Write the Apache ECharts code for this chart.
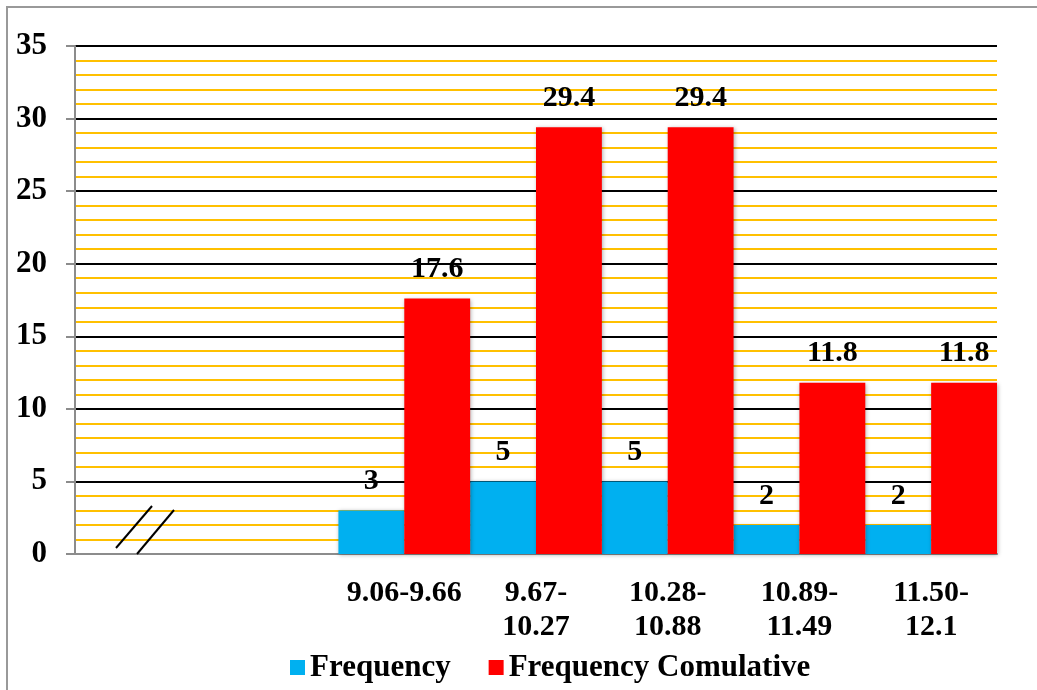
<!DOCTYPE html>
<html>
<head>
<meta charset="utf-8">
<script src="https://cdn.jsdelivr.net/npm/echarts@6/dist/echarts.min.js"></script>
<style>
  html, body { margin: 0; padding: 0; background: #fff; }
  #chart { width: 1037px; height: 690px; }
</style>
</head>
<body>
<div id="chart"></div>
<script>
const categories = ['', '', '9.06-9.66', '9.67-\n10.27', '10.28-\n10.88', '10.89-\n11.49', '11.50-\n12.1'];
const frequency = [null, null, 3, 5, 5, 2, 2];
const cumulative = [null, null, 17.6, 29.4, 29.4, 11.8, 11.8];
const yTicks = { min: 0, max: 35, interval: 5 };

const font = '"Liberation Serif", "Times New Roman", serif';

const chart = echarts.init(document.getElementById('chart'));
chart.setOption({
  animation: false,
  textStyle: { fontFamily: font },
  grid: { left: 75, right: 40, top: 46, bottom: 136 },
  legend: {
    top: 647,
    left: 285,
    itemWidth: 15,
    itemHeight: 15,
    itemGap: 38,
    icon: 'rect',
    textStyle: { fontFamily: font, fontSize: 31, fontWeight: 'bold', color: '#000' },
    data: ['Frequency', 'Frequency Comulative']
  },
  xAxis: {
    type: 'category',
    data: categories,
    axisLine: { lineStyle: { color: '#8c8c8c', width: 2 } },
    axisTick: { show: false },
    axisLabel: {
      interval: 0,
      margin: 22,
      fontFamily: font,
      fontSize: 30,
      fontWeight: 'bold',
      color: '#000',
      lineHeight: 34
    }
  },
  yAxis: {
    type: 'value',
    min: yTicks.min,
    max: yTicks.max,
    interval: yTicks.interval,
    axisLine: { show: true, lineStyle: { color: '#8c8c8c', width: 2 } },
    axisTick: { show: true, inside: false, length: 9, lineStyle: { color: '#8c8c8c', width: 2 } },
    axisLabel: { margin: 28, fontFamily: font, fontSize: 31, fontWeight: 'bold', color: '#000' },
    splitLine: { show: true, lineStyle: { color: '#000', width: 2 } },
    minorTick: { show: false, splitNumber: 5 },
    minorSplitLine: { show: true, lineStyle: { color: '#FFC000', width: 2 } }
  },
  series: [
    {
      name: 'Frequency',
      type: 'bar',
      data: frequency,
      barGap: '0%',
      barCategoryGap: '0%',
      itemStyle: { color: '#00B0F0', shadowBlur: 4, shadowColor: 'rgba(0,0,0,0.3)', shadowOffsetX: 1, shadowOffsetY: 1 },
      label: { show: true, position: 'top', distance: 14, fontFamily: font, fontSize: 30, fontWeight: 'bold', color: '#000' }
    },
    {
      name: 'Frequency Comulative',
      type: 'bar',
      data: cumulative,
      barGap: '0%',
      barCategoryGap: '0%',
      itemStyle: { color: '#FF0000', shadowBlur: 4, shadowColor: 'rgba(0,0,0,0.3)', shadowOffsetX: 1, shadowOffsetY: 1 },
      label: { show: true, position: 'top', distance: 14, fontFamily: font, fontSize: 30, fontWeight: 'bold', color: '#000' }
    }
  ],
  graphic: [
    {
      type: 'rect',
      shape: { x: 7, y: 7, width: 1100, height: 800 },
      style: { fill: 'none', stroke: '#999', lineWidth: 2 },
      silent: true
    },
    {
      type: 'line',
      shape: { x1: 116, y1: 548, x2: 152, y2: 506 },
      style: { stroke: '#000', lineWidth: 2 },
      z: 100
    },
    {
      type: 'line',
      shape: { x1: 137, y1: 554, x2: 174, y2: 510 },
      style: { stroke: '#000', lineWidth: 2 },
      z: 100
    }
  ]
});
</script>
</body>
</html>
